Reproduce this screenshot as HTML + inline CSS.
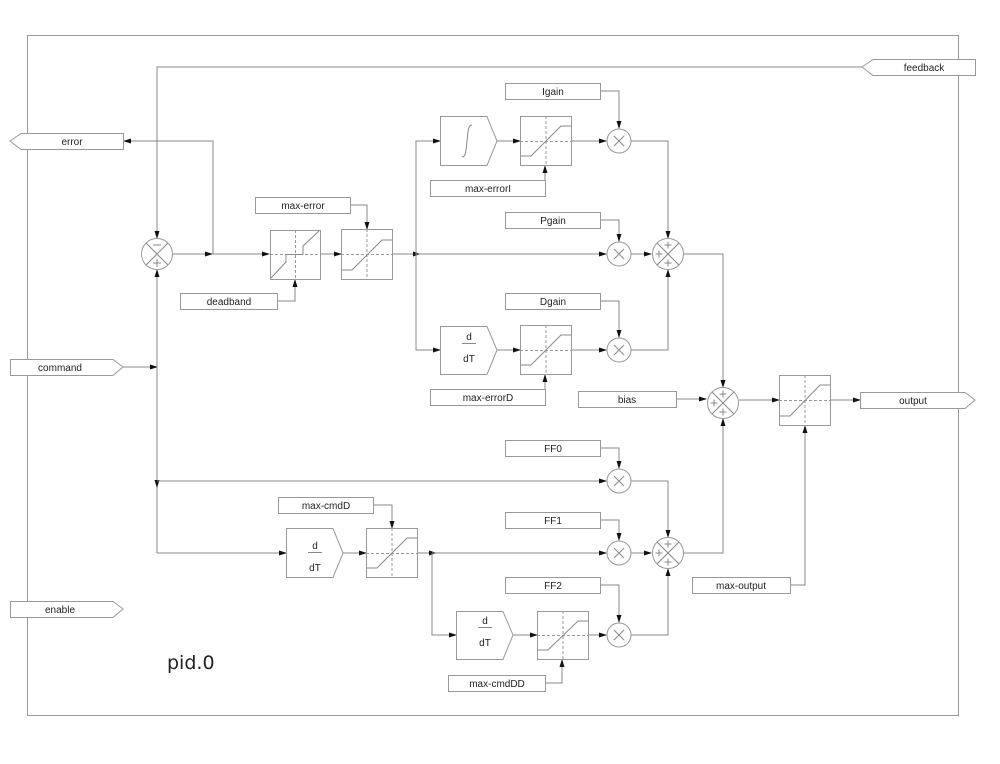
<!DOCTYPE html>
<html><head><meta charset="utf-8"><style>
html,body{margin:0;padding:0;background:#fff}
svg{display:block}
text{font-family:"Liberation Sans","DejaVu Sans",sans-serif;font-size:10px;fill:#222}
</style></head><body>
<svg width="1000" height="764" viewBox="0 0 1000 764" xmlns="http://www.w3.org/2000/svg">
<defs>
<marker id="a" markerWidth="8" markerHeight="6" refX="7" refY="3" orient="auto" markerUnits="userSpaceOnUse">
<path d="M0,0.5 L8,3 L0,5.5 z" fill="#111"/></marker>
</defs>
<g fill="none" stroke="#999" stroke-width="1">
<rect x="27.5" y="35.5" width="931" height="680"/>
</g>
<g fill="none" stroke="#888" stroke-width="1">
<path d="M862,67 H157 V238" marker-end="url(#a)"/>
<path d="M213,254 V141 H124" marker-end="url(#a)"/>
<path d="M173,254 H212" marker-end="url(#a)"/>
<path d="M213,254 H269" marker-end="url(#a)"/>
<path d="M350,205 H367 V229" marker-end="url(#a)"/>
<path d="M277,301 H295 V280" marker-end="url(#a)"/>
<path d="M320,254 H341" marker-end="url(#a)"/>
<path d="M392,254 H420" marker-end="url(#a)"/>
<path d="M416,254 H606" marker-end="url(#a)"/>
<path d="M416,254 V141 H440" marker-end="url(#a)"/>
<path d="M416,254 V350 H440" marker-end="url(#a)"/>
<path d="M497,141 H520" marker-end="url(#a)"/>
<path d="M571,141 H606" marker-end="url(#a)"/>
<path d="M545,188 V166" marker-end="url(#a)"/>
<path d="M600,91 H619 V128" marker-end="url(#a)"/>
<path d="M600,220 H619 V241" marker-end="url(#a)"/>
<path d="M631,141 H668 V238" marker-end="url(#a)"/>
<path d="M631,254 H651" marker-end="url(#a)"/>
<path d="M497,350 H520" marker-end="url(#a)"/>
<path d="M571,350 H606" marker-end="url(#a)"/>
<path d="M545,397 V375" marker-end="url(#a)"/>
<path d="M600,301 H619 V337" marker-end="url(#a)"/>
<path d="M631,350 H668 V270" marker-end="url(#a)"/>
<path d="M684,254 H723 V387" marker-end="url(#a)"/>
<path d="M676,399 H706" marker-end="url(#a)"/>
<path d="M739,400 H779" marker-end="url(#a)"/>
<path d="M830,400 H860" marker-end="url(#a)"/>
<path d="M790,585 H805 V426" marker-end="url(#a)"/>
<path d="M123,367 H157" marker-end="url(#a)"/>
<path d="M157,553 V270" marker-end="url(#a)"/>
<path d="M157,400 V487" marker-end="url(#a)"/>
<path d="M157,481 H606" marker-end="url(#a)"/>
<path d="M157,553 H286" marker-end="url(#a)"/>
<path d="M343,553 H366" marker-end="url(#a)"/>
<path d="M373,505 H392 V528" marker-end="url(#a)"/>
<path d="M418,553 H436" marker-end="url(#a)"/>
<path d="M432,553 H606" marker-end="url(#a)"/>
<path d="M432,553 V635 H456" marker-end="url(#a)"/>
<path d="M513,635 H537" marker-end="url(#a)"/>
<path d="M588,635 H606" marker-end="url(#a)"/>
<path d="M545,683 H562 V660" marker-end="url(#a)"/>
<path d="M600,448 H619 V468" marker-end="url(#a)"/>
<path d="M600,520 H619 V540" marker-end="url(#a)"/>
<path d="M600,585 H619 V622" marker-end="url(#a)"/>
<path d="M631,481 H668 V537" marker-end="url(#a)"/>
<path d="M631,553 H651" marker-end="url(#a)"/>
<path d="M631,635 H668 V569" marker-end="url(#a)"/>
<path d="M684,553 H723 V419" marker-end="url(#a)"/>
</g>
<g fill="#fff" stroke="#999" stroke-width="1">
<path d="M862,67 L873,59.5 H975.5 V75.5 H873 z"/>
<path d="M10,141 L21,133.5 H123.5 V149.5 H21 z"/>
<path d="M10.5,359.5 H113 L123,367 L113,375.5 H10.5 z"/>
<path d="M10.5,601.5 H113 L123,609 L113,617.5 H10.5 z"/>
<path d="M860.5,392.5 H965 L975,400 L965,408.5 H860.5 z"/>
<rect x="255.5" y="197.5" width="95" height="16"/>
<rect x="180.5" y="293.5" width="97" height="16"/>
<rect x="505.5" y="83.5" width="95" height="16"/>
<rect x="430.5" y="180.5" width="115" height="16"/>
<rect x="505.5" y="212.5" width="95" height="16"/>
<rect x="505.5" y="293.5" width="95" height="16"/>
<rect x="430.5" y="389.5" width="115" height="16"/>
<rect x="578.5" y="391.5" width="98" height="16"/>
<rect x="692.5" y="577.5" width="98" height="16"/>
<rect x="505.5" y="440.5" width="95" height="16"/>
<rect x="278.5" y="497.5" width="95" height="16"/>
<rect x="505.5" y="512.5" width="95" height="16"/>
<rect x="505.5" y="577.5" width="95" height="16"/>
<rect x="448.5" y="675.5" width="97" height="16"/>
<path d="M440.5,116.5 H487 L497,141 L487,165.5 H440.5 z"/>
<path d="M440.5,326.5 H487 L497,350 L487,374.5 H440.5 z"/>
<path d="M286.5,528.5 H333 L343,553 L333,577.5 H286.5 z"/>
<path d="M456.5,611.5 H503 L513,635 L503,659.5 H456.5 z"/>
<rect x="270.5" y="230.5" width="50" height="49"/>
<rect x="341.5" y="229.5" width="51" height="50"/>
<rect x="520.5" y="116.5" width="51" height="49"/>
<rect x="520.5" y="325.5" width="51" height="49"/>
<rect x="779.5" y="375.5" width="51" height="50"/>
<rect x="366.5" y="528.5" width="51" height="49"/>
<rect x="537.5" y="611.5" width="51" height="48"/>
<circle cx="157" cy="254" r="15.5"/>
<circle cx="668" cy="254" r="15.5"/>
<circle cx="723" cy="403" r="15.5"/>
<circle cx="668" cy="553" r="15.5"/>
<circle cx="619" cy="141" r="12"/>
<circle cx="619" cy="254" r="12"/>
<circle cx="619" cy="350" r="12"/>
<circle cx="619" cy="481" r="12"/>
<circle cx="619" cy="553" r="12"/>
<circle cx="619" cy="635" r="12"/>
</g>
<g fill="none" stroke="#999" stroke-width="1" stroke-dasharray="3,2">
<path d="M295.5,230 V280 M270,254.5 H320"/>
<path d="M367,229 V280 M341,254.5 H392"/>
<path d="M546,116 V166 M520,141.5 H571"/>
<path d="M546,325 V375 M520,350.5 H571"/>
<path d="M805,375 V426 M779,400.5 H830"/>
<path d="M392,528 V578 M366,553.5 H418"/>
<path d="M563,611 V660 M537,635.5 H588"/>
</g>
<g fill="none" stroke="#888" stroke-width="1">
<path d="M271,278 L286,262 V254.5 H303 V246 L319,231"/>
<path d="M342,270 H352 L382,240 H392"/>
<path d="M521,156 H531 L561,126 H571"/>
<path d="M521,365 H531 L561,335 H571"/>
<path d="M780,416 H790 L820,385 H830"/>
<path d="M367,568 H377 L407,538 H417"/>
<path d="M538,650 H548 L578,621 H588"/>
<path d="M462,157 C466,157 466,150 467,141 C468,132 468,125 472,125"/>
<path d="M146,243 L168,265 M168,243 L146,265"/>
<path d="M657,243 L679,265 M679,243 L657,265"/>
<path d="M712,392 L734,414 M734,392 L712,414"/>
<path d="M657,542 L679,564 M679,542 L657,564"/>
<path d="M614,136 L624,146 M624,136 L614,146"/>
<path d="M614,249 L624,259 M624,249 L614,259"/>
<path d="M614,345 L624,355 M624,345 L614,355"/>
<path d="M614,476 L624,486 M624,476 L614,486"/>
<path d="M614,548 L624,558 M624,548 L614,558"/>
<path d="M614,630 L624,640 M624,630 L614,640"/>
<path d="M153,245 H161 M153,263 H161 M157,259 V267"/>
<path d="M664.5,245 H671.5 M668,241.5 V248.5 M664.5,263 H671.5 M668,259.5 V266.5 M655.5,254 H662.5 M659,250.5 V257.5"/>
<path d="M719.5,394 H726.5 M723,390.5 V397.5 M719.5,412 H726.5 M723,408.5 V415.5 M710.5,403 H717.5 M714,399.5 V406.5"/>
<path d="M664.5,544 H671.5 M668,540.5 V547.5 M664.5,562 H671.5 M668,558.5 V565.5 M655.5,553 H662.5 M659,549.5 V556.5"/>
<path d="M462,343.5 H476 M308,552.5 H322 M478,627.5 H492"/>
</g>
<g text-anchor="middle">
<text x="924" y="71">feedback</text>
<text x="72" y="145">error</text>
<text x="60" y="371">command</text>
<text x="60" y="613">enable</text>
<text x="913" y="404">output</text>
<text x="303" y="209">max-error</text>
<text x="229" y="305">deadband</text>
<text x="553" y="95">Igain</text>
<text x="488" y="192">max-errorI</text>
<text x="553" y="224">Pgain</text>
<text x="553" y="305">Dgain</text>
<text x="488" y="401">max-errorD</text>
<text x="627" y="403">bias</text>
<text x="741" y="589">max-output</text>
<text x="553" y="452">FF0</text>
<text x="326" y="509">max-cmdD</text>
<text x="553" y="524">FF1</text>
<text x="553" y="589">FF2</text>
<text x="497" y="687">max-cmdDD</text>
<text x="469" y="340">d</text><text x="469" y="362">dT</text>
<text x="315" y="549">d</text><text x="315" y="571">dT</text>
<text x="485" y="624">d</text><text x="485" y="646">dT</text>
</g>
<text x="167" y="669" style="font-family:'DejaVu Sans',sans-serif;font-size:19px;fill:#222">pid.0</text>
</svg>
</body></html>
